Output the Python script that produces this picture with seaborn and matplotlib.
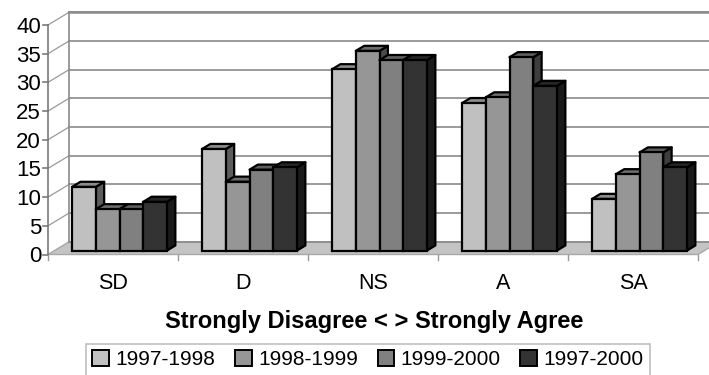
import numpy as np
import pandas as pd
import matplotlib
matplotlib.use("Agg")
import matplotlib.pyplot as plt
from matplotlib.patches import Polygon, Patch
from matplotlib.lines import Line2D
import matplotlib.transforms as mtransforms
import seaborn as sns

# ---- data ----
categories = ["SD", "D", "NS", "A", "SA"]
periods = ["1997-1998", "1998-1999", "1999-2000", "1997-2000"]
vals_1997_1998 = [11.1, 17.7, 31.6, 25.7, 9.0]
vals_1998_1999 = [7.2, 12.0, 34.8, 26.7, 13.3]
vals_1999_2000 = [7.2, 14.1, 33.2, 33.7, 17.1]
vals_1997_2000 = [8.5, 14.5, 33.2, 28.7, 14.5]
y_ticks = [0, 5, 10, 15, 20, 25, 30, 35, 40]
x_title = "Strongly Disagree < > Strongly Agree"

series = [vals_1997_1998, vals_1998_1999, vals_1999_2000, vals_1997_2000]
df = pd.DataFrame(
    [(c, p, v) for p, vals in zip(periods, series) for c, v in zip(categories, vals)],
    columns=["category", "period", "value"],
)

front_colors = ["#c0c0c0", "#969696", "#808080", "#333333"]
top_colors = ["#8c8c8c", "#6e6e6e", "#5e5e5e", "#262626"]
side_colors = ["#5c5c5c", "#4a4a4a", "#3e3e3e", "#1a1a1a"]

plt.rcParams["font.family"] = ["Liberation Sans", "DejaVu Sans"]

W, H = 709, 375
fig = plt.figure(figsize=(W / 100, H / 100), dpi=100)
ax = fig.add_axes([48 / W, (H - 254.5) / H, 650 / W, 229.5 / H])

sns.barplot(data=df, x="category", y="value", hue="period", order=categories,
            hue_order=periods, palette=front_colors, width=0.73, gap=0,
            edgecolor="black", linewidth=1.6, saturation=1, legend=False, ax=ax)
ax.set_xlim(-0.5, 4.5)
ax.set_ylim(0, 40)
for s in ax.spines.values():
    s.set_visible(False)
ax.set_facecolor("none")

# depth of the 3-D box in pixels (back wall shift)
DEPTH = np.array([21.0, 12.7])
F0, F1 = 0.31, 0.71  # front / back planes of the bars
fig.canvas.draw()


def pt(x, y, f):
    return ax.transData.transform((x, y)) + f * DEPTH


def poly(points, **kw):
    p = Polygon(points, closed=True, transform=None, clip_on=False, **kw)
    ax.add_artist(p)
    return p


def line(p0, p1, **kw):
    l = Line2D([p0[0], p1[0]], [p0[1], p1[1]], transform=None, clip_on=False, **kw)
    ax.add_artist(l)


grid_c = "#8a8a8a"
# floor
poly([pt(-0.5, 0, 0), pt(4.5, 0, 0), pt(4.5, 0, 1), pt(-0.5, 0, 1)],
     facecolor="#c4c4c4", edgecolor="#a8a8a8", linewidth=1.0, zorder=0.5)
# back wall gridlines and side wall diagonals
for v in y_ticks:
    line(pt(-0.5, v, 1), pt(4.5, v, 1), color=grid_c, linewidth=1.2, zorder=0.6)
    if v > 0:
        line(pt(-0.5, v, 0), pt(-0.5, v, 1), color="#9a9a9a", linewidth=0.9, zorder=0.6)
line(pt(-0.5, 0, 1), pt(-0.5, 40, 1), color=grid_c, linewidth=1.2, zorder=0.6)
line(pt(-0.5, 40, 1), pt(4.5, 40, 1), color="#8a8a8a", linewidth=1.8, zorder=0.6)
# front value axis
line(pt(-0.5, 0, 0), pt(-0.5, 40, 0), color="#7a7a7a", linewidth=1.2, zorder=0.7)
for v in y_ticks:
    p = pt(-0.5, v, 0)
    line(p - [5, 0], p, color="#7a7a7a", linewidth=1.2, zorder=0.7)
# category separators under the floor
for k in range(len(categories) + 1):
    p = pt(k - 0.5, 0, 0)
    line(p, p - [0, 5], color="#9a9a9a", linewidth=1.0, zorder=0.7)

# turn the flat bars into boxes: shift to the front plane, add top and side faces
off = mtransforms.Affine2D().translate(*(F0 * DEPTH))
bars = []
for hi, cont in enumerate(ax.containers):
    for patch in cont.patches:
        bars.append((patch.get_x(), hi, patch))
bars.sort(key=lambda b: b[0])
for k, (x0, hi, patch) in enumerate(bars):
    w = patch.get_width()
    h = patch.get_height()
    z = 2 + 0.01 * k
    patch.set_transform(ax.transData + off)
    patch.set_clip_on(False)
    patch.set_zorder(z + 0.005)
    x1 = x0 + w
    poly([pt(x1, 0, F0), pt(x1, h, F0), pt(x1, h, F1), pt(x1, 0, F1)],
         facecolor=side_colors[hi], edgecolor="black", linewidth=1.6,
         joinstyle="round", zorder=z)
    poly([pt(x0, h, F0), pt(x1, h, F0), pt(x1, h, F1), pt(x0, h, F1)],
         facecolor=top_colors[hi], edgecolor="black", linewidth=1.6,
         joinstyle="round", zorder=z)

# tick labels
ax.set_yticks(y_ticks)
ax.set_yticklabels([str(v) for v in y_ticks], fontsize=16)
ax.tick_params(axis="y", length=0, pad=5)
ax.set_xticks(range(len(categories)))
ax.set_xticklabels(categories, fontsize=15.5)
ax.tick_params(axis="x", length=0, pad=13)
ax.set_xlabel(x_title, fontsize=17, fontweight="bold")
ax.xaxis.set_label_coords(0.502, -0.290)
ax.xaxis.label.set_va("center")
ax.set_ylabel("")

handles = [Patch(facecolor=c, edgecolor="black", linewidth=1.4) for c in front_colors]
leg = fig.legend(handles, periods, loc="upper center", bbox_to_anchor=(368 / W, 1 - 344 / H),
                 ncol=4, fontsize=15, frameon=True, fancybox=False, edgecolor="#b0b0b0",
                 handlelength=0.8, handleheight=0.75, handletextpad=0.3,
                 columnspacing=0.95, borderpad=0.3, borderaxespad=0)
leg.get_frame().set_linewidth(1.2)

fig.savefig("out.png", dpi=100)
